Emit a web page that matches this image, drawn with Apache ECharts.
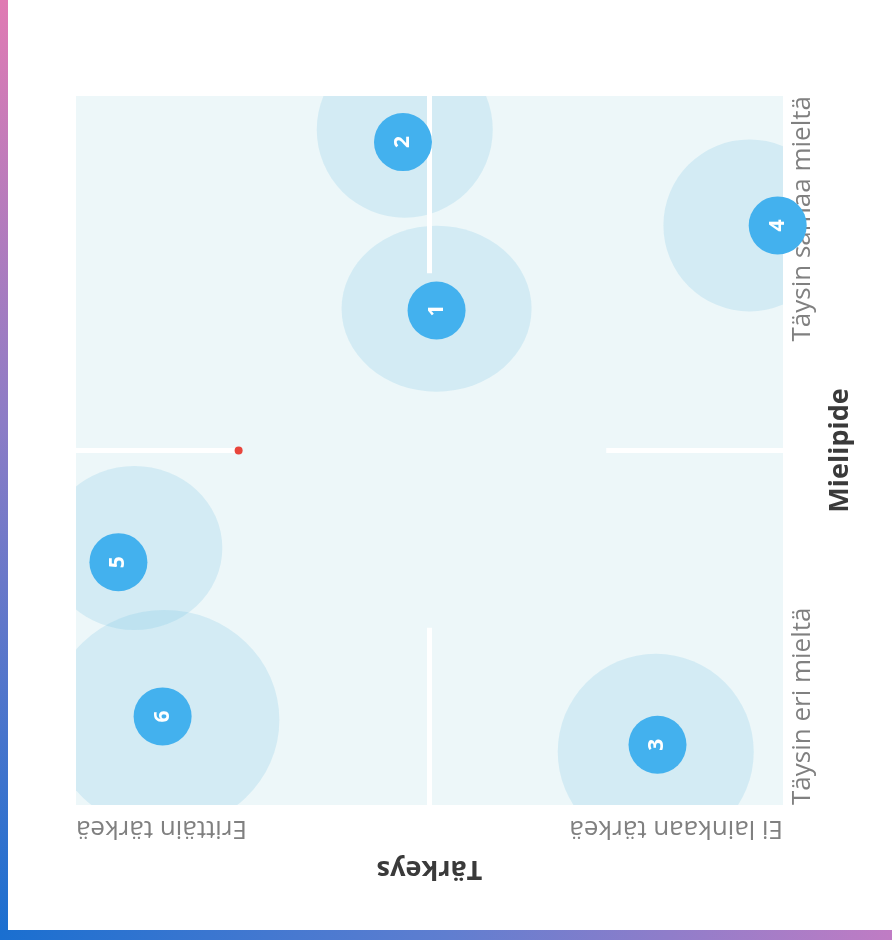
<!DOCTYPE html>
<html><head><meta charset="utf-8">
<script src="https://cdn.jsdelivr.net/npm/echarts@6/dist/echarts.min.js"></script>
<style>html,body{margin:0;padding:0;background:#fff}#c{width:892px;height:940px}</style>
</head><body><div id="c"></div>
<script>
// Data (Tärkeys on the horizontal axis, Mielipide on the vertical axis, as photographed)
const ids = ['1', '2', '3', '4', '5', '6'];
const tarkeys = [2.96, 3.15, 1.71, 1.03, 4.76, 4.51];
const mielipide = [3.79, 4.74, 1.34, 4.27, 2.37, 1.50];
const haloTarkeys = [2.96, 3.14, 1.72, 1.19, 4.67, 4.50];
const haloMielipide = [3.80, 4.81, 1.30, 4.27, 2.45, 1.48];
const haloWidth = [190, 176, 196, 172, 176, 230];
const haloHeight = [166, 176, 196, 172, 164, 220];
const tarkeysLabels = ['Ei lainkaan tärkeä', 'Erittäin tärkeä'];
const mielipideLabels = ['Täysin eri mieltä', 'Täysin samaa mieltä'];
const axisMin = 1, axisMax = 5;
const referencePoint = [4.08, 3.0];
const dividers = [
  [[3, 5], [3, 4]],
  [[3, 2], [3, 1]],
  [[5, 3], [4.08, 3]],
  [[2, 3], [1, 3]]
];

const chart = echarts.init(document.getElementById('c'), null, { renderer: 'canvas' });
const FONT = '"Open Sans", "Noto Sans", sans-serif';

const points = ids.map((id, i) => ({ name: id, value: [tarkeys[i], mielipide[i]] }));
const halos = ids.map((id, i) => [haloTarkeys[i], haloMielipide[i], haloWidth[i], haloHeight[i]]);

const option = {
  backgroundColor: '#ffffff',
  animation: false,
  grid: {
    left: 76, right: 109, top: 96, bottom: 135,
    show: true, backgroundColor: '#edf7f9', borderWidth: 0
  },
  xAxis: {
    type: 'value', min: axisMin, max: axisMax, interval: 1, inverse: true,
    position: 'bottom',
    name: 'Tärkeys', nameLocation: 'middle', nameGap: 50, nameRotate: 180,
    nameTextStyle: { fontFamily: FONT, fontSize: 27, fontWeight: 'bold', color: '#3a3a3a' },
    axisLine: { show: false }, axisTick: { show: false }, splitLine: { show: false },
    axisLabel: {
      rotate: 180, margin: 10,
      fontFamily: FONT, fontSize: 26, color: '#808080',
      verticalAlign: 'bottom',
      alignMinLabel: 'left', alignMaxLabel: 'right',
      formatter: v => v === axisMin ? tarkeysLabels[0] : (v === axisMax ? tarkeysLabels[1] : '')
    }
  },
  yAxis: {
    type: 'value', min: axisMin, max: axisMax, interval: 1,
    position: 'right',
    name: 'Mielipide', nameLocation: 'middle', nameGap: 44, nameRotate: 90,
    nameTextStyle: { fontFamily: FONT, fontSize: 27, fontWeight: 'bold', color: '#3a3a3a' },
    axisLine: { show: false }, axisTick: { show: false }, splitLine: { show: false },
    axisLabel: {
      rotate: 90, margin: 7,
      fontFamily: FONT, fontSize: 26, color: '#808080',
      verticalAlign: 'top',
      alignMinLabel: 'left', alignMaxLabel: 'right',
      formatter: v => v === axisMin ? mielipideLabels[0] : (v === axisMax ? mielipideLabels[1] : '')
    }
  },
  graphic: [
    { type: 'rect', left: 0, top: 0, shape: { width: 8, height: 940 }, z: 100,
      style: { fill: new echarts.graphic.LinearGradient(0, 0, 0, 1, [
        { offset: 0, color: '#e07bb3' }, { offset: 0.45, color: '#8c7cc6' }, { offset: 1, color: '#1a6fd0' }]) } },
    { type: 'rect', left: 0, top: 930, shape: { width: 892, height: 10 }, z: 100,
      style: { fill: new echarts.graphic.LinearGradient(0, 0, 1, 0, [
        { offset: 0, color: '#1a6fd0' }, { offset: 0.5, color: '#5f7ed0' }, { offset: 1, color: '#c07cc4' }]) } }
  ],
  series: [
    {
      type: 'custom', name: 'halo', data: halos, clip: true, z: 1, silent: true,
      encode: { x: 0, y: 1 },
      renderItem: (params, api) => {
        const c = api.coord([api.value(0), api.value(1)]);
        const w = api.value(2), h = api.value(3);
        return {
          type: 'circle', x: c[0], y: c[1], scaleY: h / w,
          shape: { cx: 0, cy: 0, r: w / 2 },
          style: { fill: 'rgba(120,196,228,0.22)' }
        };
      }
    },
    {
      type: 'scatter', name: 'dividers', data: [], z: 2, silent: true,
      markLine: {
        silent: true, symbol: 'none', z: 2,
        label: { show: false },
        lineStyle: { color: '#ffffff', width: 5, type: 'solid', opacity: 1 },
        data: dividers.map(d => [{ coord: d[0] }, { coord: d[1] }])
      }
    },
    {
      type: 'scatter', name: 'ref', data: [referencePoint], z: 5,
      symbolSize: 8, itemStyle: { color: '#e8453c', opacity: 1 }, silent: true
    },
    {
      type: 'scatter', name: 'points', data: points, clip: false, z: 4,
      symbolSize: 58,
      itemStyle: { color: '#43b1ee', opacity: 1 },
      label: {
        show: true, position: 'inside', rotate: 90,
        formatter: p => p.name,
        fontFamily: FONT, fontSize: 21, fontWeight: 'bold', color: '#ffffff'
      }
    }
  ]
};
chart.setOption(option);
</script>
</body></html>
